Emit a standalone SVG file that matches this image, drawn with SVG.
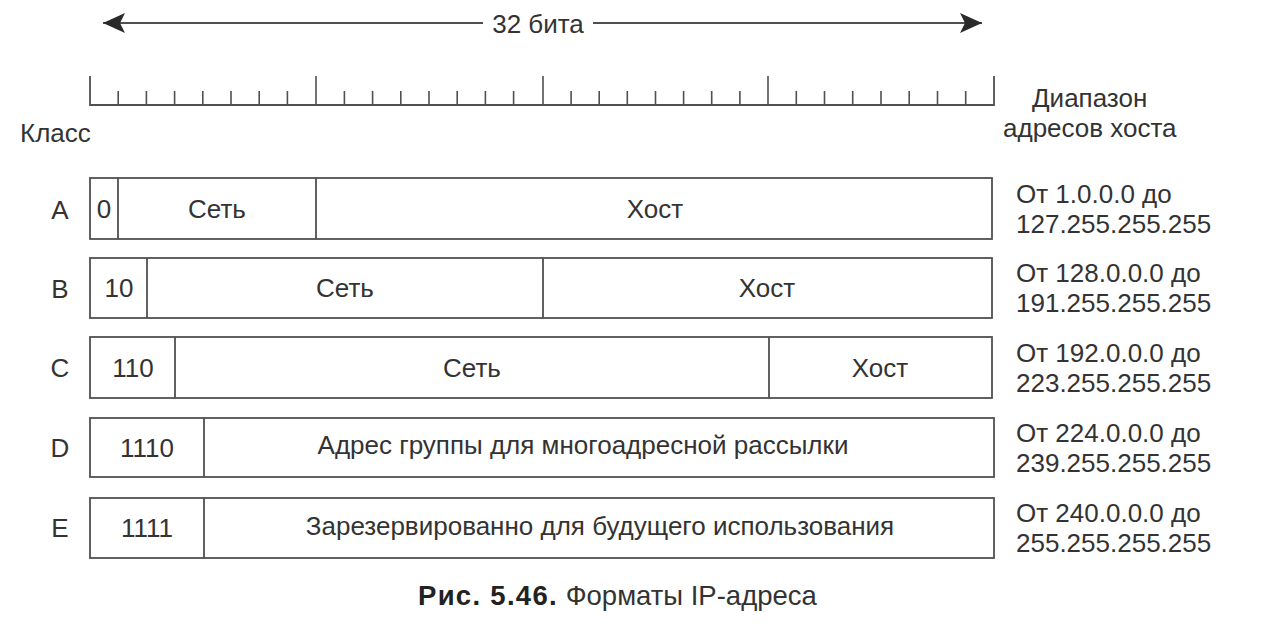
<svg xmlns="http://www.w3.org/2000/svg" width="1280" height="636" viewBox="0 0 1280 636">
<defs>
<style>
text{font-family:"Liberation Sans",Arial,sans-serif;fill:#333;font-size:26px}
.c{text-anchor:middle}
.r{font-size:26px}
.box{fill:#fff;stroke:#505050;stroke-width:1.8}
.ln{stroke:#505050;stroke-width:1.8;fill:none}
.tk{stroke:#505050;stroke-width:1.6}
.cap{font-size:27.5px}
</style>
<marker id="ah" viewBox="0 0 22 20" refX="22" refY="10" markerWidth="22" markerHeight="20" markerUnits="userSpaceOnUse" orient="auto">
<path d="M0,0 L22,10 L0,20 L5,10 Z" fill="#2a2a2a"/>
</marker>
</defs>
<rect width="1280" height="636" fill="#fff"/>

<g id="width-arrow">
<line class="ln" x1="483" y1="23" x2="103" y2="23" marker-end="url(#ah)"/>
<line class="ln" x1="593" y1="23" x2="982" y2="23" marker-end="url(#ah)"/>
<text x="538" y="33" class="c">32 бита</text>
</g>

<g id="ruler">
<path class="ln" d="M90,76 V105 H994 V76"/>
<path class="tk" d="M316,76V105M543,76V105M768,76V105
M118.2,91V105M146.4,91V105M174.6,91V105M202.8,91V105M231,91V105M259.2,91V105M287.4,91V105
M344.4,91V105M372.6,91V105M400.8,91V105M429,91V105M457.2,91V105M485.4,91V105M513.6,91V105
M571.1,91V105M599.2,91V105M627.3,91V105M655.5,91V105M683.6,91V105M711.7,91V105M739.9,91V105
M796.3,91V105M824.5,91V105M852.7,91V105M881,91V105M909.2,91V105M937.5,91V105M965.7,91V105"/>
</g>

<text x="20" y="142">Класс</text>
<text x="1032" y="107">Диапазон</text>
<text x="1003" y="137">адресов хоста</text>

<g id="rowA">
<text x="60" y="219" class="c">A</text>
<rect class="box" x="90" y="178" width="902" height="61"/>
<line class="ln" x1="118" y1="178" x2="118" y2="239"/>
<line class="ln" x1="316" y1="178" x2="316" y2="239"/>
<text x="104" y="218" class="c">0</text>
<text x="217" y="218" class="c">Сеть</text>
<text x="655" y="218" class="c">Хост</text>
<text x="1016" y="203" class="r">От 1.0.0.0 до</text>
<text x="1016" y="233" class="r">127.255.255.255</text>
</g>

<g id="rowB">
<text x="60" y="298" class="c">B</text>
<rect class="box" x="90" y="258" width="902" height="60"/>
<line class="ln" x1="147" y1="258" x2="147" y2="318"/>
<line class="ln" x1="543" y1="258" x2="543" y2="318"/>
<text x="119" y="297" class="c">10</text>
<text x="345" y="297" class="c">Сеть</text>
<text x="767" y="297" class="c">Хост</text>
<text x="1016" y="282" class="r">От 128.0.0.0 до</text>
<text x="1016" y="312" class="r">191.255.255.255</text>
</g>

<g id="rowC">
<text x="60" y="377" class="c">C</text>
<rect class="box" x="90" y="337" width="902" height="61"/>
<line class="ln" x1="175" y1="337" x2="175" y2="398"/>
<line class="ln" x1="769" y1="337" x2="769" y2="398"/>
<text x="133" y="377" class="c">110</text>
<text x="472" y="377" class="c">Сеть</text>
<text x="880" y="377" class="c">Хост</text>
<text x="1016" y="362" class="r">От 192.0.0.0 до</text>
<text x="1016" y="392" class="r">223.255.255.255</text>
</g>

<g id="rowD">
<text x="60" y="457" class="c">D</text>
<rect class="box" x="90" y="418" width="904" height="59"/>
<line class="ln" x1="204" y1="418" x2="204" y2="477"/>
<text x="147" y="457" class="c">1110</text>
<text x="583" y="454" class="c">Адрес группы для многоадресной рассылки</text>
<text x="1016" y="442" class="r">От 224.0.0.0 до</text>
<text x="1016" y="472" class="r">239.255.255.255</text>
</g>

<g id="rowE">
<text x="60" y="537" class="c">E</text>
<rect class="box" x="90" y="498" width="904" height="60"/>
<line class="ln" x1="204" y1="498" x2="204" y2="558"/>
<text x="147" y="537" class="c">1111</text>
<text x="600" y="535" class="c">Зарезервированно для будущего использования</text>
<text x="1016" y="522" class="r">От 240.0.0.0 до</text>
<text x="1016" y="552" class="r">255.255.255.255</text>
</g>

<text x="418" y="605" class="cap"><tspan font-weight="bold" fill="#222" letter-spacing="1.3">Рис. 5.46.</tspan> Форматы IP-адреса</text>
</svg>
